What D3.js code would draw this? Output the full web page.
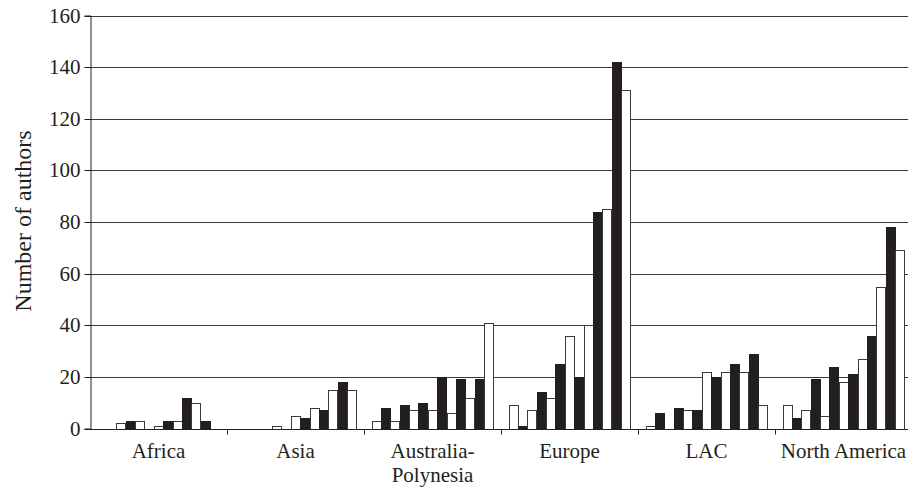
<!DOCTYPE html>
<html>
<head>
<meta charset="utf-8">
<script src="https://cdn.jsdelivr.net/npm/d3@7"></script>
<style>
  html, body { margin: 0; padding: 0; background: #fff; overflow: hidden; }
  svg { display: block; }
  text { font-family: "Liberation Serif", "Times New Roman", serif; fill: #231f20; }
</style>
</head>
<body>
<svg id="chart" width="908" height="488"></svg>
<script>
// ---- data ----
const categories = ["Africa", "Asia", "Australia-\nPolynesia", "Europe", "LAC", "North America"];
const seriesLabels = ["1","2","3","4","5","6","7","8","9","10","11","12","13"];
const africa        = [0, 0, 2, 3, 3, 0, 1, 3, 3, 12, 10, 3, 0];
const asia          = [0, 0, 0, 0, 1, 0, 5, 4, 8, 7, 15, 18, 15];
const australia     = [3, 8, 3, 9, 7, 10, 7, 20, 6, 19, 12, 19, 41];
const europe        = [9, 1, 7, 14, 12, 25, 36, 20, 40, 84, 85, 142, 131];
const lac           = [1, 6, 0, 8, 7, 7, 22, 20, 22, 25, 22, 29, 9];
const northAmerica  = [9, 4, 7, 19, 5, 24, 18, 21, 27, 36, 55, 78, 69];
const regionValues = [africa, asia, australia, europe, lac, northAmerica];
const yTicks = [0, 20, 40, 60, 80, 100, 120, 140, 160];

// ---- layout ----
const svg = d3.select("#chart");
const mLeft = 90, mRight = 912, mTop = 15.5, mBottom = 428.5;

const x0 = d3.scaleBand().domain(d3.range(categories.length)).range([mLeft, mRight]).padding(0);
const x1 = d3.scaleBand().domain(seriesLabels).range([0, x0.bandwidth()]).paddingInner(0).paddingOuter(0.8);
const y = d3.scaleLinear().domain([0, 160]).range([mBottom, mTop]);
const fill = d3.scaleOrdinal().domain(seriesLabels).range(seriesLabels.map((s, i) => i % 2 === 0 ? "#ffffff" : "#231f20"));

// gridlines
svg.append("g").selectAll("line").data(yTicks.filter(d => d > 0)).join("line")
  .attr("x1", mLeft).attr("x2", mRight)
  .attr("y1", d => Math.round(y(d)) + 0.5).attr("y2", d => Math.round(y(d)) + 0.5)
  .attr("stroke", "#3a3a3a").attr("stroke-width", 1);

// bars
const groups = svg.append("g").selectAll("g").data(regionValues).join("g")
  .attr("transform", (d, i) => `translate(${x0(i)},0)`);
groups.selectAll("rect").data(vals => vals.map((v, j) => ({ v, s: seriesLabels[j] })).filter(d => d.v > 0)).join("rect")
  .attr("x", d => Math.round(x1(d.s)) + 0.5)
  .attr("width", d => Math.round(x1.bandwidth()))
  .attr("y", d => Math.round(y(d.v)) + 0.5)
  .attr("height", d => Math.round(y(0)) - Math.round(y(d.v)))
  .attr("fill", d => fill(d.s))
  .attr("stroke", d => fill(d.s) === "#ffffff" ? "#3a3a3a" : "#231f20")
  .attr("stroke-width", 1);

// y axis
const yAxis = svg.append("g").attr("transform", `translate(${mLeft + 0.5},0)`)
  .call(d3.axisLeft(y).tickValues(yTicks).tickSize(6).tickPadding(4));
yAxis.select(".domain").attr("stroke", "#231f20");
yAxis.selectAll(".tick line").attr("stroke", "#231f20");
yAxis.selectAll(".tick text").attr("font-size", 21).attr("font-family", "Liberation Serif").attr("fill", "#231f20");
yAxis.selectAll(".tick").attr("transform", d => `translate(0,${Math.round(y(d)) + 0.5})`);

// x axis line + ticks between categories
const baseY = Math.round(y(0)) + 0.5;
svg.append("line").attr("x1", mLeft).attr("x2", mRight).attr("y1", baseY).attr("y2", baseY)
  .attr("stroke", "#231f20").attr("stroke-width", 1);
svg.append("g").selectAll("line").data(d3.range(1, categories.length + 1)).join("line")
  .attr("x1", i => Math.round(x0(i - 1) + x0.bandwidth()) + 0.5)
  .attr("x2", i => Math.round(x0(i - 1) + x0.bandwidth()) + 0.5)
  .attr("y1", baseY).attr("y2", baseY + 5)
  .attr("stroke", "#231f20");

// category labels
svg.append("g").selectAll("text").data(categories).join("text")
  .attr("x", (d, i) => x0(i) + x0.bandwidth() / 2)
  .attr("y", 458)
  .attr("text-anchor", "middle")
  .attr("font-size", 21)
  .each(function(d) {
    const cx = d3.select(this).attr("x");
    d3.select(this).selectAll("tspan").data(d.split("\n")).join("tspan")
      .attr("x", cx)
      .attr("dy", (l, k) => k === 0 ? 0 : 24)
      .text(l => l);
  });

// y axis title
svg.append("text")
  .attr("transform", `translate(31,221) rotate(-90)`)
  .attr("text-anchor", "middle")
  .attr("font-size", 24)
  .text("Number of authors");
</script>
</body>
</html>
